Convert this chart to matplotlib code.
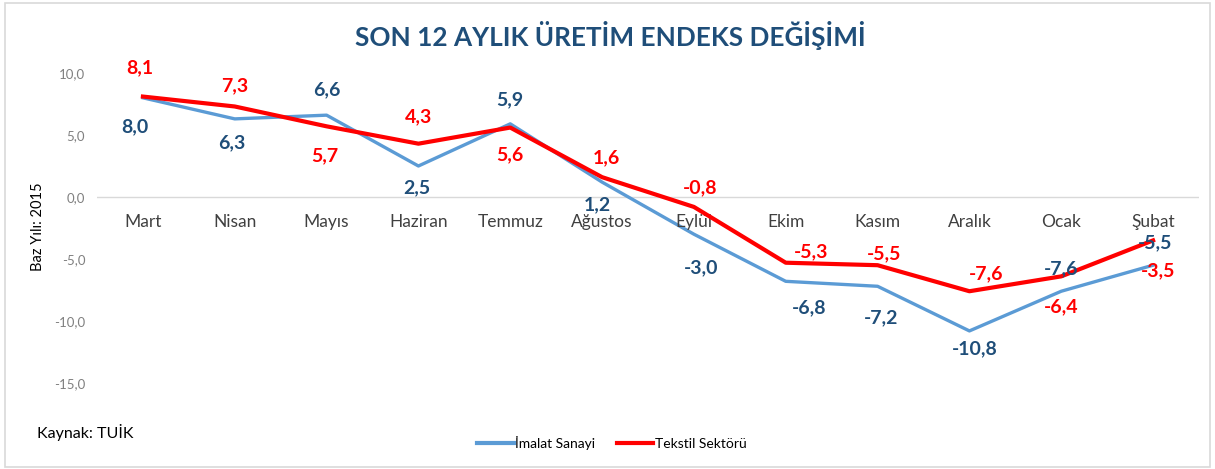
import matplotlib
matplotlib.use("Agg")
import matplotlib.pyplot as plt
from matplotlib.patches import Rectangle
from matplotlib.lines import Line2D

categories = ["Mart", "Nisan", "Mayıs", "Haziran", "Temmuz", "Ağustos",
              "Eylül", "Ekim", "Kasım", "Aralık", "Ocak", "Şubat"]
imalat = [8.0, 6.3, 6.6, 2.5, 5.9, 1.2, -3.0, -6.8, -7.2, -10.8, -7.6, -5.5]
tekstil = [8.1, 7.3, 5.7, 4.3, 5.6, 1.6, -0.8, -5.3, -5.5, -7.6, -6.4, -3.5]
# label offsets from the point, in pixels (dy: + above, - below)
imalat_dx = [-8, -3, 0, -2, 0, -5, 7, 23, 3, 5, 0, 2]
imalat_dy = [-29, -24, 25, -22, 24, -23, -34, -26, -31, -18, 22, 22]
tekstil_dx = [-3, 0, -2, 0, 0, 4, 6, 25, 6, 17, 0, 5]
tekstil_dy = [29, 21, -29, 27, -27, 19, 19, 11, 11, 17, -30, -30]
yticks = [10, 5, 0, -5, -10, -15]

plt.rcParams['font.family'] = ['Lato', 'DejaVu Sans']

BLUE_LINE = "#5B9BD5"
BLUE_TXT = "#1F4E79"
RED = "#FF0000"

fig = plt.figure(figsize=(12.15, 4.69), dpi=100)
ax = fig.add_axes([97/1215, (469-383)/469, (1199-97)/1215, (383-73)/469])

x = list(range(len(categories)))
ax.plot(x, imalat, color=BLUE_LINE, lw=2.4, solid_joinstyle='round', zorder=3)
ax.plot(x, tekstil, color=RED, lw=3.0, solid_joinstyle='round', zorder=4)

ax.set_xlim(-0.5, len(categories) - 0.5)
ax.set_ylim(-15, 10)
ax.axhline(0, color="#D9D9D9", lw=1.0, zorder=1)

for s in ax.spines.values():
    s.set_visible(False)
ax.set_xticks([])
ax.set_yticks(yticks)
ax.set_yticklabels([f"{v:.1f}".replace(".", ",") for v in yticks],
                   color="#808080", fontsize=9.5)
ax.tick_params(axis='y', length=0, pad=8.5)

for i, c in enumerate(categories):
    ax.annotate(c, (i, 0), xytext=(0, -18), textcoords='offset points',
                ha='center', va='center', fontsize=12.5, color="#404040")

def fmt(v):
    return f"{v:.1f}".replace(".", ",")

PX = 0.72  # pixels -> points at dpi 100
for i, v in enumerate(imalat):
    ax.annotate(fmt(v), (i, v), xytext=(imalat_dx[i] * PX, imalat_dy[i] * PX),
                textcoords='offset points', ha='center', va='center',
                fontsize=14, fontweight='bold', color=BLUE_TXT,
                annotation_clip=False, zorder=6)
for i, v in enumerate(tekstil):
    ax.annotate(fmt(v), (i, v), xytext=(tekstil_dx[i] * PX, tekstil_dy[i] * PX),
                textcoords='offset points', ha='center', va='center',
                fontsize=14, fontweight='bold', color=RED,
                annotation_clip=False, zorder=6)

fig.text(610/1215, 1 - 35/469, "SON 12 AYLIK ÜRETİM ENDEKS DEĞİŞİMİ",
         ha='center', va='center', fontsize=18.8, fontweight='bold', color=BLUE_TXT)
fig.text(38/1215, 1 - 227/469, "Baz Yılı: 2015", rotation=90,
         ha='center', va='center', fontsize=10.5, color="black")
fig.text(37/1215, 1 - 432/469, "Kaynak: TUİK", ha='left', va='center',
         fontsize=11.5, color="black")

handles = [Line2D([], [], color=BLUE_LINE, lw=3),
           Line2D([], [], color=RED, lw=3)]
fig.legend(handles, ["İmalat Sanayi", "Tekstil Sektörü"], loc='center',
           bbox_to_anchor=(612/1215, 1 - 443/469), ncol=2, frameon=False,
           fontsize=10, handlelength=2.6, handletextpad=0.1, columnspacing=1.6)

fig.add_artist(Rectangle((5/1215, 2/469), 1205/1215, 464/469,
                         transform=fig.transFigure, fill=False,
                         edgecolor="#D9D9D9", lw=1.2))

fig.savefig("out.png", dpi=100)
